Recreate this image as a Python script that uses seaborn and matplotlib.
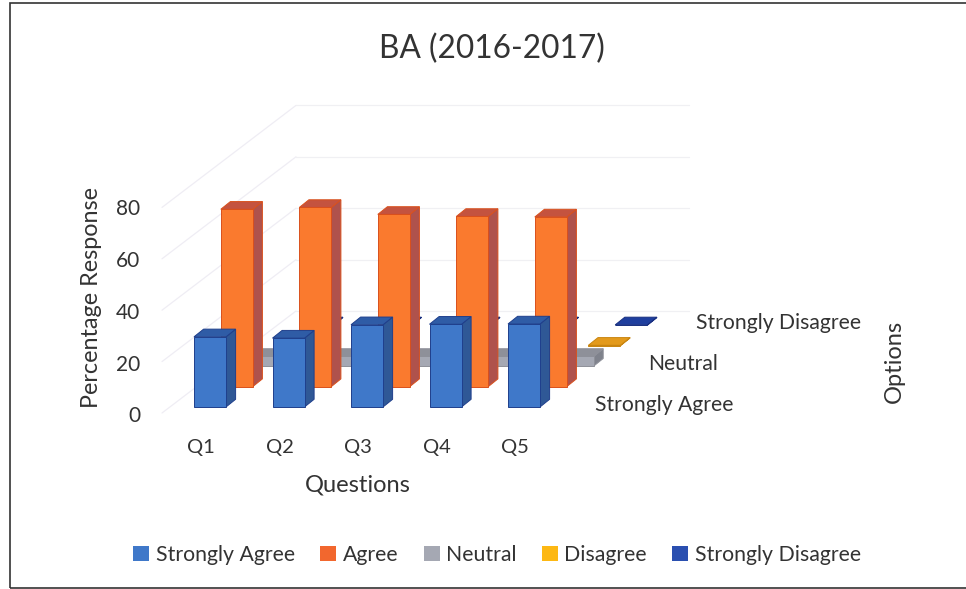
import pandas as pd
import seaborn as sns
import matplotlib.pyplot as plt
from matplotlib.patches import Patch, Rectangle

# data
questions = ['Q1', 'Q2', 'Q3', 'Q4', 'Q5']
series = ['Strongly Agree', 'Agree', 'Neutral', 'Disagree', 'Strongly Disagree']
strongly_agree = [27.3, 26.8, 32, 32.2, 32.3]
agree = [69, 69.7, 67, 66.2, 66]
neutral = [3.8, 3.8, 3.8, 3.8, 3.8]
disagree = [0.2, 0.2, 0.2, 0.2, 0.2]
strongly_disagree = [0.2, 0.2, 0.2, 0.2, 0.2]
y_ticks = [0, 20, 40, 60, 80]

sns.set_theme(style='white')
plt.rcParams['font.family'] = ['Lato', 'DejaVu Sans']
TXT = '#333333'

# front face, side, top, edge
colors = {
    'Strongly Agree': ('#3F78C9', '#2F5896', '#2F5CA6', '#1F3F8C'),
    'Agree': ('#FA7A2E', '#AF524C', '#C4533F', '#D9501C'),
    'Neutral': ('#A5A8B3', '#7F828C', '#8E9099', '#8E9099'),
    'Disagree': ('#E39A1C', '#B67A12', '#E39A1C', '#C98510'),
    'Strongly Disagree': ('#1F3F9E', '#18307A', '#1F3F9E', '#182F80'),
}
legend_colors = ['#3F78C9', '#F2672E', '#A5A8B3', '#FDB813', '#2A4FB0']

# scales: one question step = 78.5 px, one percent = 2.57 px
PX_X = 78.5
PX_Y = 2.57
DX = 26.8 / PX_X   # one series further back
DY = 20.4 / PX_Y
SX = 9.6 / PX_X    # bar depth
SY = 7.7 / PX_Y
W = 32 / PX_X

fig = plt.figure(figsize=(9.66, 5.89), dpi=100)
ax = fig.add_axes([0, 0, 1, 1])

# long table for seaborn
rows = []
for d, (name, vals) in enumerate(zip(series, [strongly_agree, agree, neutral, disagree, strongly_disagree])):
    for q, v in enumerate(vals):
        rows.append({'series': name, 'depth': d, 'q': q, 'value': v, 'pos': q + W / 2 + d * DX})
df = pd.DataFrame(rows)

# back series first so the front ones cover them
for d, name in reversed(list(enumerate(series))):
    sub = df[df['series'] == name]
    front, side, top, edge = colors[name]
    base = d * DY
    z = 10 + (5 - d) * 2
    sns.barplot(data=sub, x='pos', y='value', native_scale=True, width=W, color=front,
                saturation=1, errorbar=None, bottom=base, edgecolor=edge, linewidth=0.7,
                zorder=z, ax=ax)
    for _, r in sub.iterrows():
        x0 = r['q'] + d * DX
        x1 = x0 + W
        y1 = base + r['value']
        ax.fill([x1, x1 + SX, x1 + SX, x1], [base, base + SY, y1 + SY, y1],
                facecolor=side, edgecolor=edge, linewidth=0.7, zorder=z - 1)
        ax.fill([x0, x1, x1 + SX, x0 + SX], [y1, y1, y1 + SY, y1 + SY],
                facecolor=top, edgecolor=edge, linewidth=0.7, zorder=z - 1)

# faint walls
x_left = -32 / PX_X
y_left = -6 / PX_Y
for t in y_ticks:
    ax.plot([x_left, x_left + 5 * DX], [y_left + t, y_left + t + 5 * DY], color='#efedf4', lw=0.9, zorder=1)
    ax.plot([x_left + 5 * DX, x_left + 5 * DX + 5], [y_left + t + 5 * DY] * 2, color='#f0f0f3', lw=0.9, zorder=1)
    ax.text(x_left - 0.28, y_left + t * 1.0 - 0.8 + (80 - t) * -0.006, str(t), ha='right', va='center',
            fontsize=15, color=TXT)

ax.set_xlim(-194 / PX_X, (966 - 194) / PX_X)
ax.set_ylim((407 - 589) / PX_Y, 407 / PX_Y)
ax.axis('off')

for q, name in enumerate(questions):
    ax.text(q + 0.09, -15.6, name, ha='center', va='center', fontsize=14.5, color=TXT)


def px(x, y):
    return x / 966, 1 - y / 589


for name, lx, ly in [(series[0], 595, 405), (series[2], 648, 364), (series[4], 696, 323)]:
    fig.text(*px(lx, ly), name, ha='left', va='center', fontsize=15.2, color=TXT)

fig.text(*px(492, 49), 'BA (2016-2017)', ha='center', va='center', fontsize=22.8, color=TXT)
fig.text(*px(92, 298), 'Percentage Response', rotation=90, ha='center', va='center', fontsize=16.8, color=TXT)
fig.text(*px(358, 485), 'Questions', ha='center', va='center', fontsize=17, color=TXT)
fig.text(*px(894, 361), 'Options', rotation=90, ha='center', va='center', fontsize=17, color=TXT)

handles = [Patch(facecolor=c, edgecolor='none', label=s) for c, s in zip(legend_colors, series)]
fig.legend(handles=handles, loc='center', bbox_to_anchor=px(497, 555), ncol=5, frameon=False,
           fontsize=15.3, labelcolor=TXT, handlelength=0.75, handleheight=0.75, handletextpad=0.3,
           columnspacing=1.2)

# scanned frame
fig.add_artist(Rectangle(px(10, 588), 1.1, 585 / 589, transform=fig.transFigure, fill=False,
                         edgecolor='#333333', linewidth=1.2))

fig.savefig('out.png', dpi=100)
